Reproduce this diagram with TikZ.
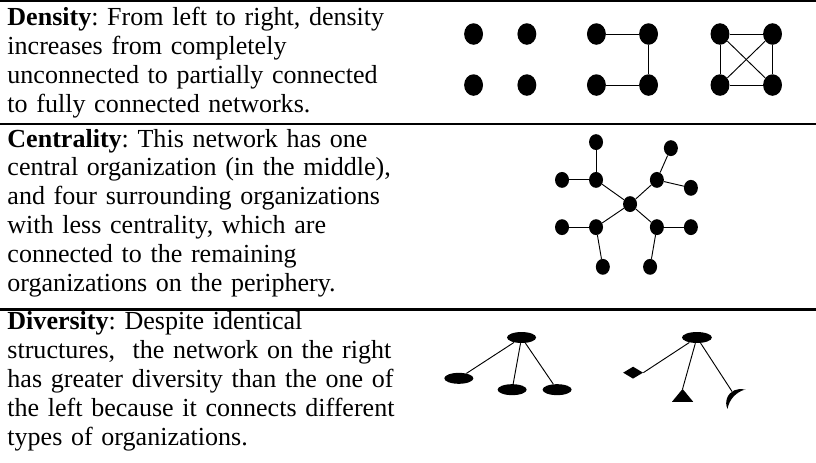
\documentclass[tikz,border=0pt]{standalone}
\usepackage{fontspec}
\setmainfont{Liberation Serif}
\frenchspacing
\usetikzlibrary{shapes.geometric}

\begin{document}
\begin{tikzpicture}[
    txt/.style={anchor=base west, inner sep=0pt, text width=12cm, align=left,
      font=\fontsize{19.6}{21.7}\selectfont},
    rul/.style={line width=1.6pt},
    dns/.style={ellipse, fill=black, inner sep=0pt, minimum width=0.50cm, minimum height=0.57cm},
    cen/.style={ellipse, fill=black, inner sep=0pt, minimum width=0.37cm, minimum height=0.42cm},
    flat/.style={ellipse, fill=black, inner sep=0pt, minimum width=0.77cm, minimum height=0.29cm},
    lnk/.style={line width=0.7pt}
  ]
    \useasboundingbox (0,0) rectangle (21.59,-12.25);

    % Rules
    \draw[rul, line width=1.5pt] (0,-0.026) -- (21.59,-0.026);
    \draw[rul] (0,-3.29) -- (21.59,-3.29);
    \draw[rul] (0,-8.19) -- (21.59,-8.19);

    % Texts
    \node[txt] (tden) at (0.19,-0.68) {\textbf{Density}: From left to right, density\\
      increases from completely\\
      unconnected to partially connected\\
      to fully connected networks.};
    \node[txt] (tcen) at (0.19,-3.89) {\textbf{Centrality}: This network has one\\
      central organization (in the middle),\\
      and four surrounding organizations\\
      with less centrality, which are\\
      connected to the remaining\\
      organizations on the periphery.};
    \node[txt] (tdiv) at (0.19,-8.73) {\textbf{Diversity}: Despite identical\\
      structures,~ the network on the right\\
      has greater diversity than the one of\\
      the left because it connects different\\
      types of organizations.};

    % Density -- unconnected
    \node[dns] (a1) at (12.53,-0.90) {};
    \node[dns] (a2) at (13.94,-0.90) {};
    \node[dns] (a3) at (12.53,-2.25) {};
    \node[dns] (a4) at (13.94,-2.25) {};

    % Density -- partially connected
    \node[dns] (b1) at (15.78,-0.90) {};
    \node[dns] (b2) at (17.16,-0.90) {};
    \node[dns] (b3) at (15.78,-2.25) {};
    \node[dns] (b4) at (17.16,-2.25) {};
    \draw[lnk] (b1) -- (b2) -- (b4) -- (b3);

    % Density -- fully connected
    \node[dns] (c1) at (19.05,-0.90) {};
    \node[dns] (c2) at (20.44,-0.90) {};
    \node[dns] (c3) at (19.05,-2.25) {};
    \node[dns] (c4) at (20.44,-2.25) {};
    \draw[lnk] (c1) -- (c2) -- (c4) -- (c3) -- (c1);
    \draw[lnk] (c1) -- (c4);
    \draw[lnk] (c2) -- (c3);

    % Centrality
    \node[cen] (mid) at (16.67,-5.40) {};
    \node[cen] (ul)  at (15.77,-4.76) {};
    \node[cen] (ult) at (15.77,-3.76) {};
    \node[cen] (ull) at (14.87,-4.76) {};
    \node[cen] (ur)  at (17.38,-4.76) {};
    \node[cen] (urt) at (17.75,-3.92) {};
    \node[cen] (urr) at (18.28,-4.97) {};
    \node[cen] (ll)  at (15.77,-6.01) {};
    \node[cen] (lll) at (14.87,-6.01) {};
    \node[cen] (llb) at (15.95,-7.06) {};
    \node[cen] (lr)  at (17.38,-6.01) {};
    \node[cen] (lrr) at (18.28,-6.01) {};
    \node[cen] (lrb) at (17.20,-7.06) {};
    \draw[lnk] (mid) -- (ul);
    \draw[lnk] (mid) -- (ur);
    \draw[lnk] (mid) -- (ll);
    \draw[lnk] (mid) -- (lr);
    \draw[lnk] (ul) -- (ult);
    \draw[lnk] (ul) -- (ull);
    \draw[lnk] (ur) -- (urt);
    \draw[lnk] (ur) -- (urr);
    \draw[lnk] (ll) -- (lll);
    \draw[lnk] (ll) -- (llb);
    \draw[lnk] (lr) -- (lrr);
    \draw[lnk] (lr) -- (lrb);

    % Diversity -- same types
    \node[flat] (ltop) at (13.80,-8.93) {};
    \node[flat] (lft)  at (12.14,-10.01) {};
    \node[flat] (lmd)  at (13.55,-10.31) {};
    \node[flat] (lrt)  at (14.74,-10.31) {};
    \draw[lnk] (ltop) -- (lft);
    \draw[lnk] (ltop) -- (lmd);
    \draw[lnk] (ltop) -- (lrt);

    % Diversity -- different types
    \node[flat, minimum width=0.79cm] (rtop) at (18.44,-8.93) {};
    \node[diamond, fill=black, inner sep=0pt, minimum width=0.53cm, minimum height=0.32cm]
      (dia) at (16.75,-9.86) {};
    \coordinate (tri) at (18.06,-10.29);
    \coordinate (moon) at (19.37,-10.36);
    \fill[shift={(tri)}] (0,0) -- (-0.28,-0.34) -- (0.28,-0.34) -- cycle;
    \fill[shift={(moon)}] (0.34,0.045) arc[start angle=70, end angle=205, radius=0.37]
      arc[start angle=170, end angle=105, radius=0.65] -- cycle;
    \draw[lnk] (rtop) -- (dia.east);
    \draw[lnk] (rtop) -- (tri);
    \draw[lnk] (rtop) -- (moon);
  \end{tikzpicture}
\end{document}
